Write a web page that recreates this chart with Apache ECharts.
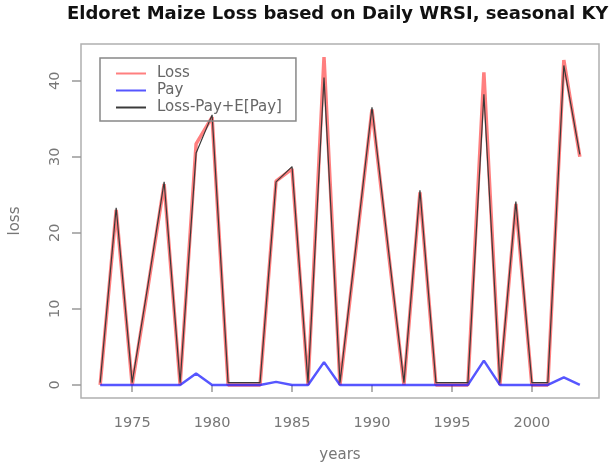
<!DOCTYPE html>
<html>
<head>
<meta charset="utf-8">
<script src="https://cdn.jsdelivr.net/npm/echarts@6/dist/echarts.min.js"></script>
<style>
html,body{margin:0;padding:0;background:#fff;}
#chart{width:613px;height:468px;}
</style>
</head>
<body>
<div id="chart"></div>
<script>
var years = [1973,1974,1975,1976,1977,1978,1979,1980,1981,1982,1983,1984,1985,1986,1987,1988,1989,1990,1991,1992,1993,1994,1995,1996,1997,1998,1999,2000,2001,2002,2003];
var loss = [0,23,0,13,26.4,0,31.7,35.2,0,0,0,26.8,28.4,0,43.1,0,18,36.2,18,0,25.3,0,0,0,41.1,0,23.8,0,0,42.7,30];
var pay = [0,0,0,0,0,0,1.5,0,0,0,0,0.4,0,0,3.0,0,0,0,0,0,0,0,0,0,3.2,0,0,0,0,1.0,0];
var adjusted = [0.3,23.3,0.3,13.3,26.7,0.3,30.5,35.5,0.3,0.3,0.3,26.7,28.7,0.3,40.4,0.3,18.3,36.5,18.3,0.3,25.6,0.3,0.3,0.3,38.2,0.3,24.1,0.3,0.3,42.0,30.3];
var xTicks = [1975,1980,1985,1990,1995,2000];
var yTicks = [0,10,20,30,40];

function pairs(vals){ return years.map(function(y,i){ return [y, vals[i]]; }); }

var chart = echarts.init(document.getElementById('chart'), null, {renderer:'canvas'});
var font = 'DejaVu Sans';
chart.setOption({
  animation:false,
  backgroundColor:'#fff',
  title:{
    text:'Eldoret Maize Loss based on Daily WRSI, seasonal KY',
    left:67, top:5, padding:0,
    textStyle:{fontFamily:font, fontWeight:'bold', fontSize:18, color:'#111'}
  },
  legend:{
    orient:'vertical', left:100, top:58,
    padding:[8,14,6,15], itemGap:2, itemWidth:30, itemHeight:14,
    borderColor:'#888', borderWidth:1.5, borderRadius:0,
    itemStyle:{opacity:0},
    textStyle:{fontFamily:font, fontSize:15, color:'#666', padding:[0,0,0,6]},
    data:['Loss','Pay','Loss-Pay+E[Pay]']
  },
  grid:{left:81, right:14, top:44, bottom:68, show:true, borderColor:'#b0b0b0', borderWidth:1.5, backgroundColor:'transparent'},
  xAxis:{
    type:'value', min:1971.8, max:2004.2,
    name:'years', nameLocation:'middle', nameGap:50,
    nameTextStyle:{fontFamily:font, fontSize:15, color:'#777'},
    axisLine:{show:false},
    axisTick:{show:true, length:7, customValues:xTicks, lineStyle:{color:'#999', width:1.5}},
    axisLabel:{customValues:xTicks, margin:18, fontFamily:font, fontSize:14.5, color:'#777', formatter:function(v){return String(v);}},
    splitLine:{show:false}
  },
  yAxis:{
    type:'value', min:-1.72, max:44.82,
    name:'loss', nameLocation:'middle', nameGap:58, nameRotate:90,
    nameTextStyle:{fontFamily:font, fontSize:15, color:'#777'},
    axisLine:{show:false},
    axisTick:{show:true, length:9, customValues:yTicks, lineStyle:{color:'#999', width:1.5}},
    axisLabel:{customValues:yTicks, rotate:90, margin:18, fontFamily:font, fontSize:14.5, color:'#777', formatter:function(v){return String(v);}},
    splitLine:{show:false}
  },
  series:[
    {name:'Loss', type:'line', data:pairs(loss), symbol:'none', lineStyle:{color:'rgba(255,0,0,0.5)', width:3.5}, itemStyle:{color:'rgba(255,0,0,0.5)'}},
    {name:'Pay', type:'line', data:pairs(pay), symbol:'none', lineStyle:{color:'rgba(30,30,255,0.75)', width:2.5}, itemStyle:{color:'rgba(30,30,255,0.75)'}},
    {name:'Loss-Pay+E[Pay]', type:'line', data:pairs(adjusted), symbol:'none', lineStyle:{color:'#3a3a3a', width:1.2}, itemStyle:{color:'#3a3a3a'}}
  ]
});
</script>
</body>
</html>
